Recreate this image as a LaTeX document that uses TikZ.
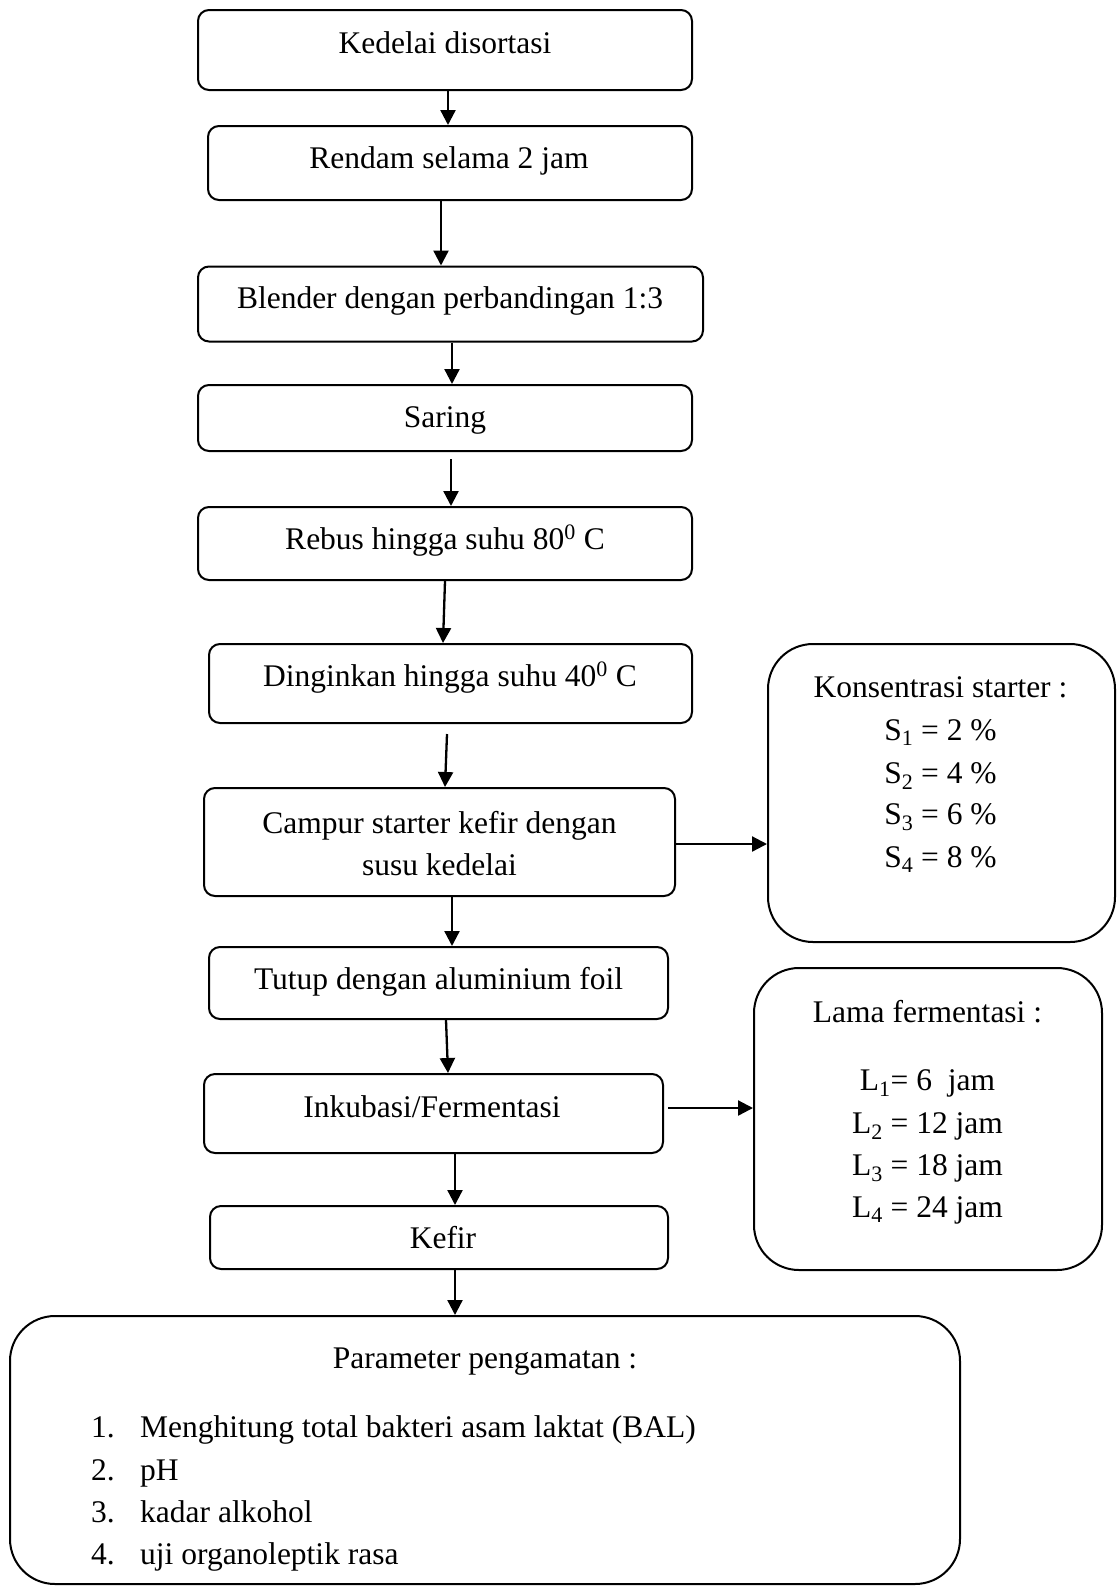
\documentclass[tikz,border=0pt]{standalone}
\usepackage{fontspec}
\setmainfont{Liberation Serif}
\usetikzlibrary{arrows.meta}
\begin{document}
\begin{tikzpicture}[x=1pt,y=-1pt,
  box/.style={draw, line width=2pt, rounded corners=11pt, inner sep=0pt},
  bigbox/.style={draw, line width=2pt, rounded corners=45pt, inner sep=0pt},
  txt/.style={anchor=base, inner sep=0pt, font=\fontsize{31.5}{38}\selectfont},
  ltxt/.style={anchor=base west, inner sep=0pt, font=\fontsize{31.5}{38}\selectfont},
  arr/.style={line width=2.3pt, -{Triangle[length=15pt,width=15pt]}}]
\useasboundingbox[fill=white] (0,0) rectangle (1119,1588);

% main boxes
\node[box, minimum width=494pt, minimum height=80pt] (b1) at (445,50) {};
\node[box, minimum width=484pt, minimum height=74pt] (b2) at (450,163) {};
\node[box, minimum width=505pt, minimum height=75pt] (b3) at (450.5,304) {};
\node[box, minimum width=494pt, minimum height=66pt] (b4) at (445,418) {};
\node[box, minimum width=494pt, minimum height=73pt] (b5) at (445,543.5) {};
\node[box, minimum width=483pt, minimum height=79pt] (b6) at (450.5,683.5) {};
\node[box, minimum width=471pt, minimum height=108pt] (b7) at (439.5,842) {};
\node[box, minimum width=459pt, minimum height=72pt] (b8) at (438.5,983) {};
\node[box, minimum width=459pt, minimum height=79pt] (b9) at (433.5,1113.5) {};
\node[box, minimum width=458pt, minimum height=63pt] (b10) at (439,1237.5) {};

% side boxes
\node[bigbox, minimum width=347pt, minimum height=298pt] (k) at (941.5,793) {};
\node[bigbox, minimum width=348pt, minimum height=302pt] (l) at (928,1119) {};
\node[bigbox, minimum width=950pt, minimum height=268pt] (p) at (485,1450) {};

% texts
\node[txt] (t1) at (445,53) {Kedelai disortasi};
\node[txt] (t2) at (449,168) {Rendam selama 2 jam};
\node[txt] (t3) at (450,308) {Blender dengan perbandingan 1:3};
\node[txt] (t4) at (445,427) {Saring};
\node[txt] (t5) at (445,549) {Rebus hingga suhu 80\textsuperscript{0} C};
\node[txt] (t6) at (450,686) {Dinginkan hingga suhu 40\textsuperscript{0} C};
\node[txt] (t7a) at (439.5,833) {Campur starter kefir dengan};
\node[txt] (t7b) at (439.5,875) {susu kedelai};
\node[txt] (t8) at (438.5,989) {Tutup dengan aluminium foil};
\node[txt] (t9) at (432,1117) {Inkubasi/Fermentasi};
\node[txt] (t10) at (443,1248) {Kefir};

\node[txt] (k0) at (940.5,697) {Konsentrasi starter :};
\node[txt] (k1) at (940.5,740) {S\textsubscript{1} = 2 \%};
\node[txt] (k2) at (940.5,783) {S\textsubscript{2} = 4 \%};
\node[txt] (k3) at (940.5,824) {S\textsubscript{3} = 6 \%};
\node[txt] (k4) at (940.5,867) {S\textsubscript{4} = 8 \%};

\node[txt] (l0) at (927.5,1022) {Lama fermentasi :};
\node[txt] (l1) at (927.5,1090) {L\textsubscript{1}= 6\ \ jam};
\node[txt] (l2) at (927.5,1133) {L\textsubscript{2} = 12 jam};
\node[txt] (l3) at (927.5,1175) {L\textsubscript{3} = 18 jam};
\node[txt] (l4) at (927.5,1217) {L\textsubscript{4} = 24 jam};

\node[txt] (p0) at (485,1368) {Parameter pengamatan :};
\node[ltxt] (n1) at (91,1437) {1.};
\node[ltxt] (n2) at (91,1480) {2.};
\node[ltxt] (n3) at (91,1522) {3.};
\node[ltxt] (n4) at (91,1564) {4.};
\node[ltxt] (i1) at (140,1437) {Menghitung total bakteri asam laktat (BAL)};
\node[ltxt] (i2) at (140,1480) {pH};
\node[ltxt] (i3) at (140,1522) {kadar alkohol};
\node[ltxt] (i4) at (140,1564) {uji organoleptik rasa};

% arrows
\draw[arr] ([xshift=3pt]b1.south) -- ([xshift=-2pt]b2.north);
\draw[arr] ([xshift=-9pt]b2.south) -- ([xshift=-9.5pt]b3.north);
\draw[arr] ([xshift=1.5pt]b3.south) -- ([xshift=7pt]b4.north);
\draw[arr] ([xshift=6pt,yshift=-7pt]b4.south) -- ([xshift=6pt]b5.north);
\draw[arr] (b5.south) -- ([xshift=-7.5pt]b6.north);
\draw[arr] ([xshift=-3.5pt,yshift=-10pt]b6.south) -- ([xshift=5.5pt]b7.north);
\draw[arr] ([xshift=12.5pt]b7.south) -- ([xshift=13.5pt]b8.north);
\draw[arr] ([xshift=7.5pt]b8.south) -- ([xshift=14.5pt]b9.north);
\draw[arr] ([xshift=21.5pt]b9.south) -- ([xshift=16pt]b10.north);
\draw[arr] ([xshift=16pt]b10.south) -- ([xshift=-30pt]p.north);

\coordinate (s1) at ([yshift=-2pt]b7.east);
\draw[arr] (s1) -- (s1 -| k.west);
\coordinate (s2) at ([xshift=4pt,yshift=5.5pt]b9.east);
\draw[arr] (s2) -- (s2 -| l.west);
\end{tikzpicture}
\end{document}
